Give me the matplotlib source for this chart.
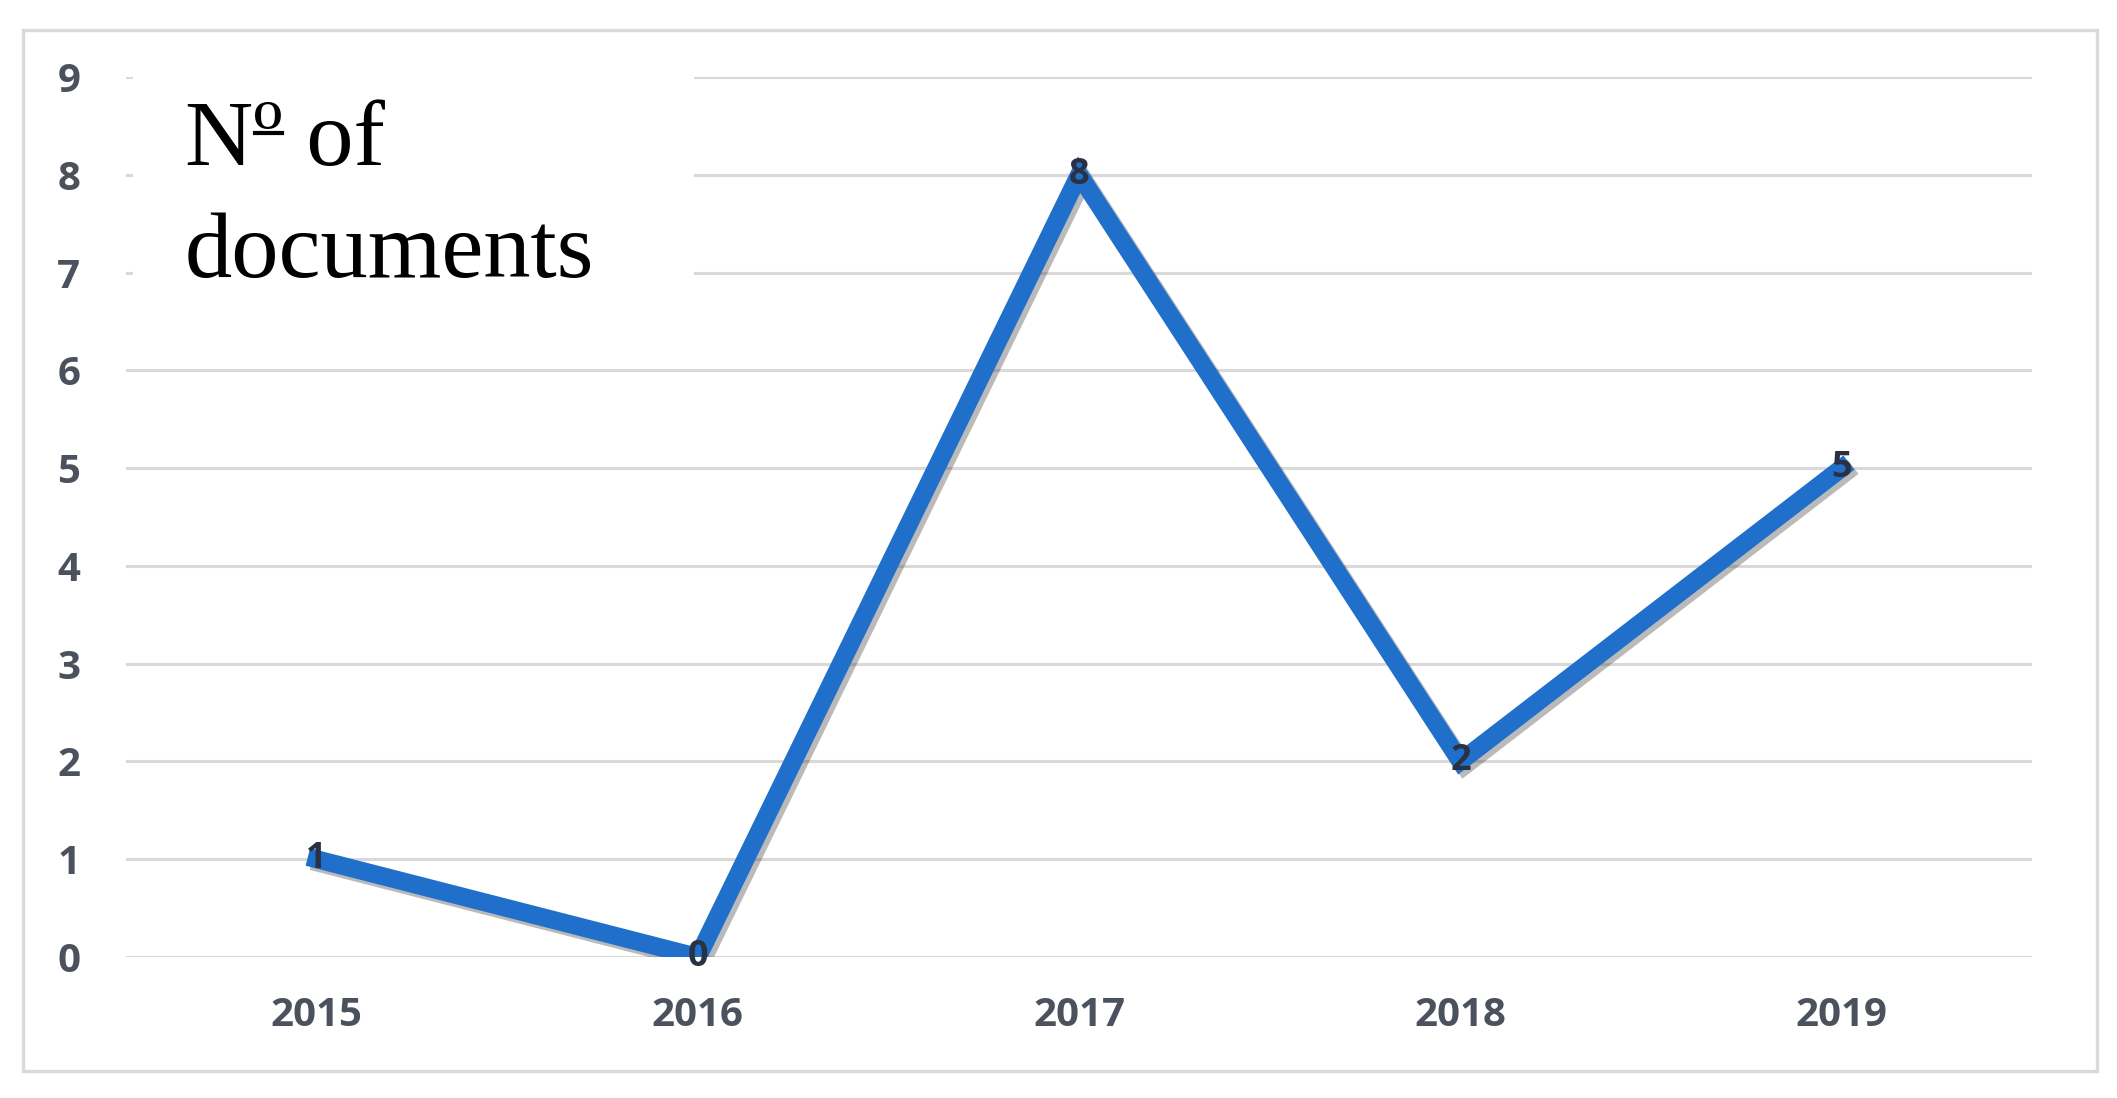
import matplotlib.pyplot as plt
import matplotlib.patheffects as pe
from matplotlib.patches import Rectangle
from matplotlib.lines import Line2D

# data
years = ['2015', '2016', '2017', '2018', '2019']
docs = [1, 0, 8, 2, 5]
y_ticks = list(range(0, 10))

W, H = 2117, 1098
fig = plt.figure(figsize=(W / 100, H / 100), dpi=100)
fig.patch.set_facecolor('white')

# light grey frame around the chart
fig.patches.append(Rectangle((0.0109, 0.0246), 0.9797, 0.9481, transform=fig.transFigure,
                             fill=False, edgecolor='#d9d9d9', linewidth=2.4, zorder=0))

ax = fig.add_axes([0.0595, 0.1284, 0.9005, 0.8015])
x = list(range(len(years)))

ax.plot(x, docs, color='#1f6fcb', linewidth=13, solid_joinstyle='miter', zorder=3,
        path_effects=[pe.SimpleLineShadow(offset=(3, -3), shadow_color='#3a3a3a', alpha=0.35),
                      pe.Normal()])

# value labels sit right on the points
for xi, v in zip(x, docs):
    ax.text(xi, v, str(v), ha='center', va='center', fontsize=26, fontweight='bold',
            color='#2a3142', family='Open Sans', zorder=4)

ax.set_xlim(-0.5, len(years) - 0.5)
ax.set_ylim(0, 9)
ax.set_xticks(x)
ax.set_xticklabels(years)
ax.set_yticks(y_ticks)

for lab in ax.get_xticklabels() + ax.get_yticklabels():
    lab.set_family('Open Sans')
    lab.set_fontweight('bold')
    lab.set_color('#4b525e')
    lab.set_fontsize(29)

ax.tick_params(axis='both', length=0)
ax.tick_params(axis='y', pad=33)
ax.tick_params(axis='x', pad=28)
ax.grid(axis='y', color='#d9d9d9', linewidth=2.2, zorder=1)
ax.set_axisbelow(True)
for s in ax.spines.values():
    s.set_visible(False)

# white box behind the title text hides the top gridlines
fig.patches.append(Rectangle((0.063, 0.725), 0.265, 0.23, transform=fig.transFigure,
                             facecolor='white', edgecolor='none', zorder=2))
fs = 68
fig.text(0.0874, 0.8497, 'N\u00ba of', family='Liberation Serif', fontsize=fs,
         va='baseline', ha='left', color='black', zorder=5)
fig.text(0.0874, 0.7477, 'documents', family='Liberation Serif', fontsize=fs,
         va='baseline', ha='left', color='black', zorder=5)

# underline under the ordinal sign, as in Times New Roman
fig.canvas.draw()
r = fig.canvas.get_renderer()
tn = fig.text(0.0874, 0.8497, 'N', family='Liberation Serif', fontsize=fs, va='baseline')
nx1 = tn.get_window_extent(r).x1
tn.remove()
em = fs * 100 / 72
uy = 0.8497 * H + 0.34 * em
fig.lines.append(Line2D([(nx1 + 0.02 * em) / W, (nx1 + 0.30 * em) / W], [uy / H, uy / H],
                        transform=fig.transFigure, color='black', linewidth=3, zorder=5))

fig.savefig('out.png', dpi=100)
